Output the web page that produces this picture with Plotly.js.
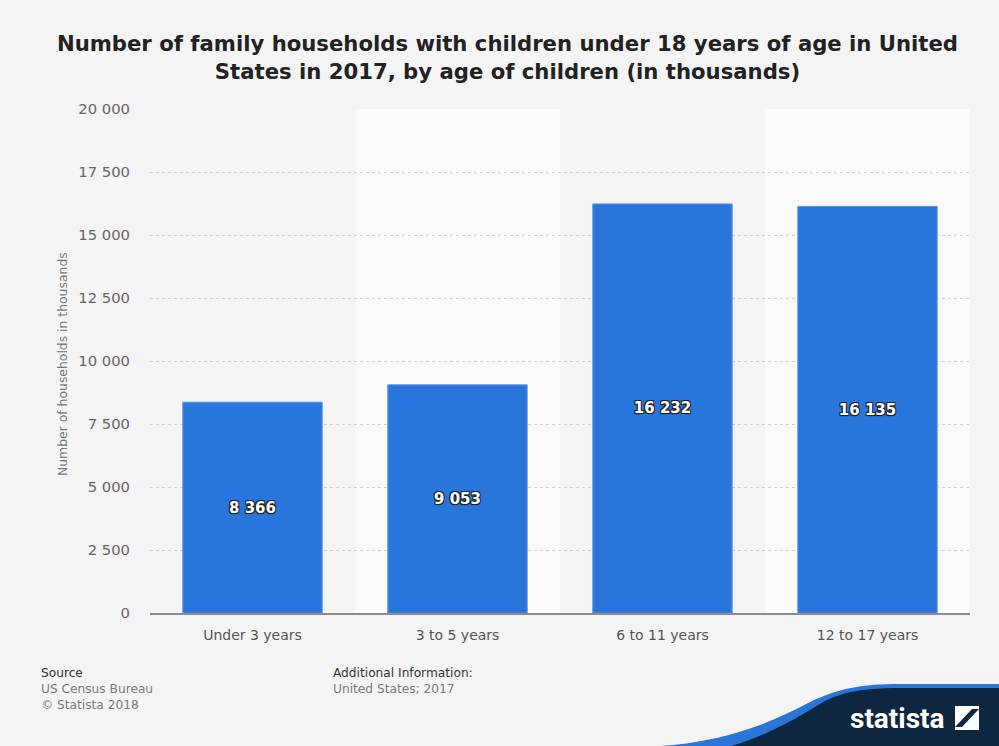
<!DOCTYPE html>
<html>
<head>
<meta charset="utf-8">
<script src="https://cdn.plot.ly/plotly-3.0.1.min.js"></script>
<style>
html,body{margin:0;padding:0;background:#f4f4f4;}
#chart{width:999px;height:746px;}
</style>
</head>
<body>
<div id="chart"></div>
<script>
// ---- data ----
const categories = ["Under 3 years", "3 to 5 years", "6 to 11 years", "12 to 17 years"];
const households = [8366, 9053, 16232, 16135];
const yTicks = [0, 2500, 5000, 7500, 10000, 12500, 15000, 17500, 20000];

const titleText = "Number of family households with children under 18 years of age in United<br>States in 2017, by age of children (in thousands)";
const yTitle = "Number of households in thousands";

// ---- layout helpers (pixel -> paper) ----
const W = 999, H = 746;
const L = 150, R = 970, T = 109, B = 613;
const px = x => (x - L) / (R - L);
const py = y => (B - y) / (B - T);
function pathFrom(points) {
  return points.map(p => {
    if (typeof p === 'string') return p;
    return px(p[0]).toFixed(5) + ',' + py(p[1]).toFixed(5);
  }).join(' ');
}

const shadow = "1px 1px 0 #222, -1px -1px 0 #222, 1px -1px 0 #222, -1px 1px 0 #222, 0 1px 1px #000";

const trace = {
  type: 'bar',
  x: categories,
  y: households,
  marker: {color: '#2875db', line: {color: '#5a95e6', width: 1}},
  width: 0.68,
  texttemplate: '%{y:,d}',
  textposition: 'inside',
  insidetextanchor: 'middle',
  textangle: 0,
  textfont: {family: 'DejaVu Sans, sans-serif', size: 15, color: '#ffffff', weight: 'bold', shadow: shadow},
  hoverinfo: 'skip',
  cliponaxis: false
};

const shapes = [];
categories.forEach((c, i) => {
  if (i % 2 === 1) {
    shapes.push({type: 'rect', xref: 'x', yref: 'paper', x0: i - 0.5, x1: i + 0.5, y0: 0, y1: 1,
      fillcolor: '#fafafa', line: {width: 0}, layer: 'below'});
  }
});
// statista logo background
shapes.push({type: 'path', xref: 'paper', yref: 'paper', layer: 'above',
  path: pathFrom(['M', [640, 747], 'C', [715, 745], [765, 726], [808, 703], 'C', [838, 688], [862, 684], [900, 684], 'L', [1000, 684], 'L', [1000, 747], 'Z']),
  fillcolor: '#2a75d8', line: {width: 0}});
shapes.push({type: 'path', xref: 'paper', yref: 'paper', layer: 'above',
  path: pathFrom(['M', [728, 747], 'C', [770, 735], [800, 716], [825, 701], 'C', [848, 690], [870, 688], [905, 688], 'L', [1000, 688], 'L', [1000, 747], 'Z']),
  fillcolor: '#0d2740', line: {width: 0}});
// logo icon
shapes.push({type: 'rect', xref: 'paper', yref: 'paper', layer: 'above',
  x0: px(955), x1: px(979), y0: py(730), y1: py(706), fillcolor: '#ffffff', line: {width: 0}});
shapes.push({type: 'path', xref: 'paper', yref: 'paper', layer: 'above',
  path: pathFrom(['M', [955, 727], 'L', [962, 727], 'L', [979, 709], 'L', [972, 709], 'Z']),
  fillcolor: '#0d2740', line: {width: 0}});

const footFont = {family: 'DejaVu Sans, sans-serif', size: 12.2, color: '#7a7a7a'};
const footHead = {family: 'DejaVu Sans, sans-serif', size: 12.2, color: '#333'};
const annotations = [
  {text: yTitle, xref: 'paper', yref: 'paper', x: px(62), y: py(364), xanchor: 'center', yanchor: 'middle', textangle: -90,
   showarrow: false, font: {family: 'DejaVu Sans, sans-serif', size: 12.4, color: '#777'}},
  {text: 'Source', xref: 'paper', yref: 'paper', x: px(39), y: py(673), xanchor: 'left', yanchor: 'middle',
   showarrow: false, font: footHead},
  {text: 'US Census Bureau', xref: 'paper', yref: 'paper', x: px(39), y: py(689), xanchor: 'left', yanchor: 'middle',
   showarrow: false, font: footFont},
  {text: '© Statista 2018', xref: 'paper', yref: 'paper', x: px(39), y: py(705), xanchor: 'left', yanchor: 'middle',
   showarrow: false, font: footFont},
  {text: 'Additional Information:', xref: 'paper', yref: 'paper', x: px(331), y: py(673), xanchor: 'left', yanchor: 'middle',
   showarrow: false, font: footHead},
  {text: 'United States; 2017', xref: 'paper', yref: 'paper', x: px(331), y: py(689), xanchor: 'left', yanchor: 'middle',
   showarrow: false, font: footFont},
  {text: 'statista', xref: 'paper', yref: 'paper', x: px(947), y: py(718), xanchor: 'right', yanchor: 'middle',
   showarrow: false, font: {family: 'Liberation Sans Narrow, Roboto, sans-serif', size: 28, color: '#ffffff', weight: 'bold'}}
];

const layout = {
  width: W, height: H,
  paper_bgcolor: '#f4f4f4',
  plot_bgcolor: '#f4f4f4',
  margin: {l: L, r: W - R, t: T, b: H - B, pad: 0},
  separators: '. ',
  title: {text: titleText, x: 0.508, xref: 'container', y: 1 - 51 / H, yref: 'container', yanchor: 'middle',
    font: {family: 'DejaVu Sans, sans-serif', size: 21.2, color: '#222', weight: 'bold'}},
  showlegend: false,
  xaxis: {
    type: 'category',
    tickfont: {family: 'DejaVu Sans, sans-serif', size: 14, color: '#555'},
    showgrid: false, zeroline: false, showline: true, linecolor: '#8a8a8a', linewidth: 2,
    ticks: '', ticklabelstandoff: 8, fixedrange: true
  },
  yaxis: {
    range: [0, 20000],
    tickvals: yTicks,
    tickformat: ',d',
    tickfont: {family: 'DejaVu Sans, sans-serif', size: 14.8, color: '#666'},
    showgrid: true, gridcolor: '#d2d2d2', griddash: 'dot', gridwidth: 1,
    zeroline: false, showline: false, ticks: '', ticklabelstandoff: 19, fixedrange: true
  },
  shapes: shapes,
  annotations: annotations
};

Plotly.newPlot('chart', [trace], layout, {displayModeBar: false, staticPlot: true});
</script>
</body>
</html>
